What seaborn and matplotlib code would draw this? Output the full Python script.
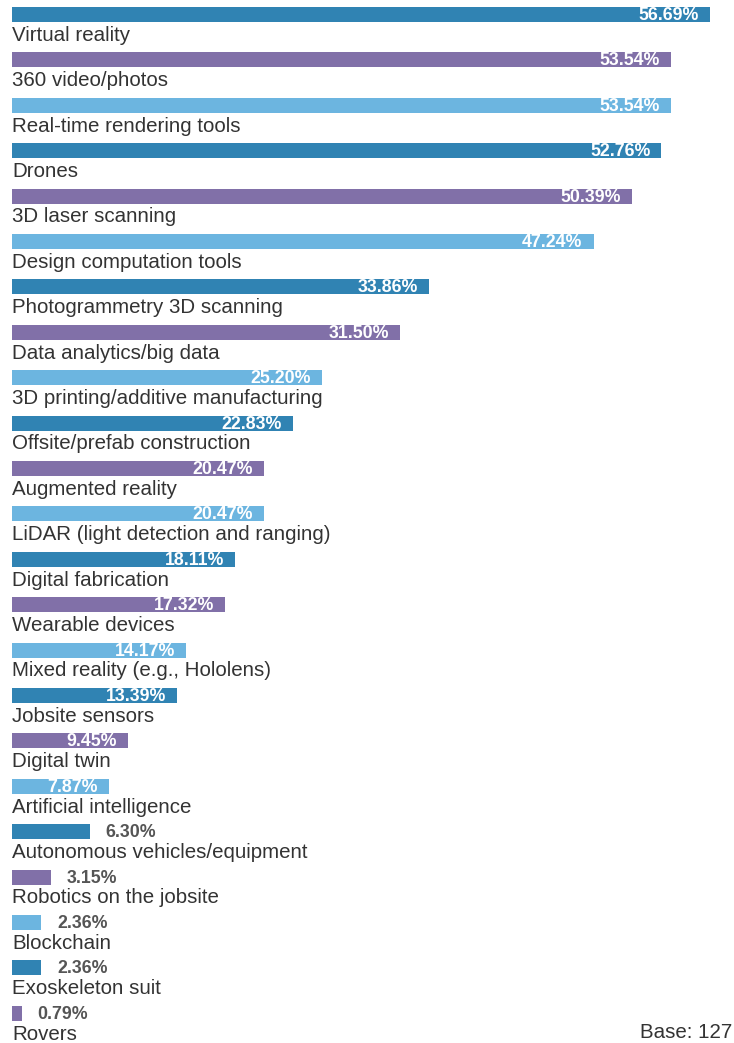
import matplotlib
matplotlib.use("Agg")
import matplotlib.pyplot as plt
import seaborn as sns
import pandas as pd

# Survey data
categories = [
    "Virtual reality", "360 video/photos", "Real-time rendering tools", "Drones",
    "3D laser scanning", "Design computation tools", "Photogrammetry 3D scanning",
    "Data analytics/big data", "3D printing/additive manufacturing",
    "Offsite/prefab construction", "Augmented reality",
    "LiDAR (light detection and ranging)", "Digital fabrication", "Wearable devices",
    "Mixed reality (e.g., Hololens)", "Jobsite sensors", "Digital twin",
    "Artificial intelligence", "Autonomous vehicles/equipment",
    "Robotics on the jobsite", "Blockchain", "Exoskeleton suit", "Rovers",
]
values = [56.69, 53.54, 53.54, 52.76, 50.39, 47.24, 33.86, 31.50, 25.20, 22.83,
          20.47, 20.47, 18.11, 17.32, 14.17, 13.39, 9.45, 7.87, 6.30, 3.15,
          2.36, 2.36, 0.79]
base_note = "Base: 127"

colors = ["#3083b3", "#8170a8", "#6cb5e0"]

df = pd.DataFrame({"category": categories, "value": values})
palette = {c: colors[i % 3] for i, c in enumerate(categories)}

sns.set_style("white")
plt.rcParams["font.family"] = ["Liberation Sans", "DejaVu Sans"]

W, H = 734, 1043
fig = plt.figure(figsize=(W / 100, H / 100), dpi=100)
ax = fig.add_axes([0, 0, 1, 1])

sns.barplot(data=df, x="value", y="category", hue="category", palette=palette,
            orient="h", width=0.33, legend=False, ax=ax, saturation=1,
            edgecolor="none")

# map pixels: bars start at x=12px, 12.31 px per percent; 45.4 px per row
px_per_unit = 12.31
row_px = 45.4
ax.set_xlim(-12 / px_per_unit, (W - 12) / px_per_unit)
ax.set_ylim((H - 14.5) / row_px, -14.5 / row_px)
ax.axis("off")

for i, (cat, val) in enumerate(zip(categories, values)):
    ax.text(0, i + 0.46, cat, ha="left", va="center", fontsize=14.8,
            color="#333333")
    lbl = f"{val:.2f}%"
    if val >= 7:
        ax.text(val - 11 / px_per_unit, i + 0.02, lbl, ha="right",
                va="center", fontsize=12.8, fontweight="bold",
                color="white")
    else:
        ax.text(val + 16 / px_per_unit, i + 0.02, lbl, ha="left",
                va="center", fontsize=12.8, fontweight="bold",
                color="#555555")

fig.text(0.998, 1 - 1032 / H, base_note, ha="right", va="center",
         fontsize=14.8, color="#333333")

fig.savefig("out.png", dpi=100)
